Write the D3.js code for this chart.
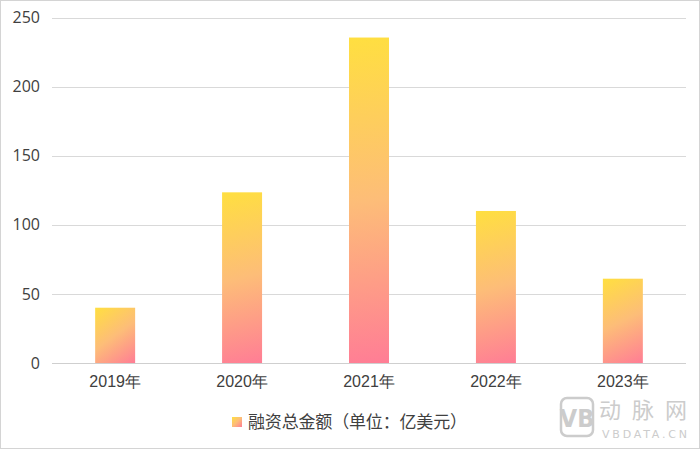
<!DOCTYPE html>
<html>
<head>
<meta charset="utf-8">
<script src="https://cdn.jsdelivr.net/npm/d3@7"></script>
<style>
  body { margin: 0; background: #fff; }
  svg { display: block; font-family: "Noto Sans CJK SC", "Open Sans", sans-serif; }
</style>
</head>
<body>
<svg id="chart" width="700" height="449"></svg>
<script>
// chart data
const years = ["2019年", "2020年", "2021年", "2022年", "2023年"];
const amounts = [40, 123.5, 235.5, 110, 61];
const yTicks = [0, 50, 100, 150, 200, 250];
const legendLabel = "融资总金额（单位：亿美元）";

const width = 700, height = 449;
const svg = d3.select("#chart");

// outer frame
svg.append("rect")
  .attr("x", 0.5).attr("y", 0.5)
  .attr("width", width - 1).attr("height", height - 1)
  .attr("fill", "#fff").attr("stroke", "#d4d4d4");

const x = d3.scaleBand()
  .domain(years)
  .range([52, 686])
  .paddingInner(0.685)
  .paddingOuter(0.34);

const y = d3.scaleLinear()
  .domain([0, 250])
  .range([363, 17.5]);

// gradient stops: yellow -> peach -> pink
const stops = [["0%", "#ffdf40"], ["50%", "#fdbd78"], ["100%", "#ff7d95"]];

const defs = svg.append("defs");
// one gradient per bar, corner to corner (yellow top-left -> pink bottom-right)
amounts.forEach((d, i) => {
  const g = defs.append("linearGradient")
    .attr("id", "barGrad" + i)
    .attr("gradientUnits", "userSpaceOnUse")
    .attr("x1", x(years[i])).attr("y1", y(d))
    .attr("x2", x(years[i]) + x.bandwidth()).attr("y2", y(0));
  stops.forEach(s => g.append("stop").attr("offset", s[0]).attr("stop-color", s[1]));
});
// legend swatch gradient
const lg = defs.append("linearGradient")
  .attr("id", "legGrad")
  .attr("x1", 0).attr("y1", 0).attr("x2", 1).attr("y2", 1);
stops.forEach(s => lg.append("stop").attr("offset", s[0]).attr("stop-color", s[1]));

// grid lines
svg.append("g")
  .selectAll("line")
  .data(yTicks.filter(d => d > 0))
  .join("line")
  .attr("x1", 52).attr("x2", 686)
  .attr("y1", d => Math.round(y(d)) + 0.5)
  .attr("y2", d => Math.round(y(d)) + 0.5)
  .attr("stroke", "#d9d9d9");

// y axis labels
const yAxis = svg.append("g")
  .attr("transform", "translate(52,0)")
  .call(d3.axisLeft(y).tickValues(yTicks).tickSize(0).tickPadding(12));
yAxis.select(".domain").remove();
yAxis.selectAll("text")
  .attr("font-size", 16)
  .attr("fill", "#404040")
  .attr("font-family", "'Open Sans', 'Noto Sans', sans-serif");

// bars
svg.append("g")
  .selectAll("rect")
  .data(amounts)
  .join("rect")
  .attr("x", (d, i) => x(years[i]))
  .attr("y", d => y(d))
  .attr("width", x.bandwidth())
  .attr("height", d => y(0) - y(d))
  .attr("fill", (d, i) => `url(#barGrad${i})`);

// x axis
const xAxis = svg.append("g")
  .attr("transform", `translate(0,${Math.round(y(0)) + 0.5})`)
  .call(d3.axisBottom(x).tickSize(0).tickPadding(12));
xAxis.select(".domain")
  .attr("stroke", "#cfcfcf")
  .attr("d", "M52,0H686");
xAxis.selectAll("text")
  .attr("font-size", 16)
  .attr("fill", "#404040");

// legend
const legend = svg.append("g").attr("transform", "translate(232,417)");
legend.append("rect")
  .attr("width", 10).attr("height", 10)
  .attr("fill", "url(#legGrad)");
legend.append("text")
  .attr("x", 16).attr("y", 11)
  .attr("font-size", 17)
  .attr("textLength", 219)
  .attr("lengthAdjust", "spacing")
  .attr("fill", "#404040")
  .text(legendLabel);

// watermark
const wm = svg.append("g").attr("fill", "#cccccc");
wm.append("rect")
  .attr("x", 561).attr("y", 398).attr("width", 32).attr("height", 38)
  .attr("rx", 6).attr("fill", "none").attr("stroke", "#cccccc").attr("stroke-width", 2.5);
wm.append("text")
  .attr("x", 577).attr("y", 427).attr("text-anchor", "middle")
  .attr("font-size", 25).attr("font-weight", "bold")
  .attr("font-family", "'DejaVu Sans Condensed', sans-serif")
  .text("VB");
wm.append("text")
  .attr("x", 599).attr("y", 418)
  .attr("font-size", 22).attr("textLength", 88)
  .text("动脉网");
wm.append("text")
  .attr("x", 602).attr("y", 438)
  .attr("font-size", 11).attr("textLength", 85)
  .attr("font-family", "'DejaVu Sans', sans-serif")
  .text("VBDATA.CN");
</script>
</body>
</html>
